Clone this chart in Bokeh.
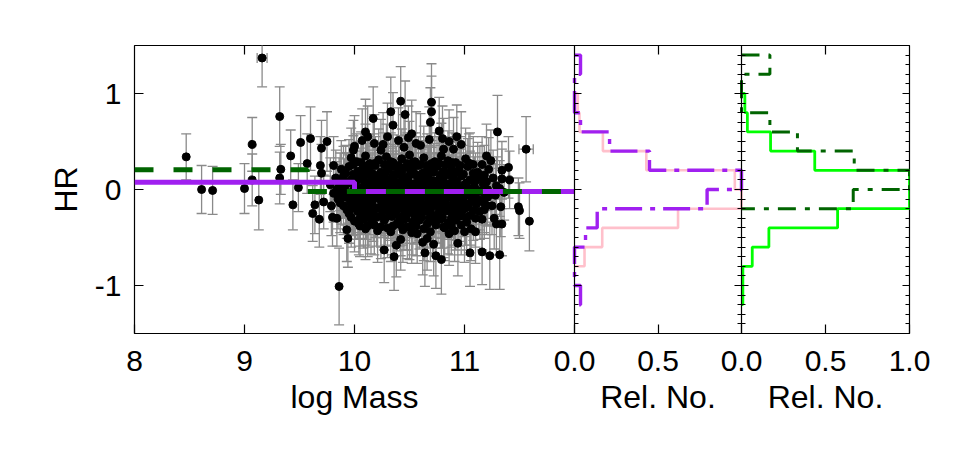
import numpy as np
from bokeh.plotting import figure
from bokeh.layouts import column
from bokeh.models import (Range1d, LinearAxis, FixedTicker, SingleIntervalTicker,
                          CustomJSTickFormatter)
from bokeh.core.properties import value
from bokeh.embed import file_html
from bokeh.resources import INLINE

FONT = "Liberation Sans"

# ---------------- data: individual galaxies (log Mass, HR, HR error) ----------------
sparse_mass = [8.47, 8.61, 8.71, 9.00, 9.07, 9.07, 9.13, 9.16, 9.32, 9.33,
               9.32, 9.42, 9.44, 9.49, 9.51, 9.57, 9.60, 9.62, 9.64, 9.69,
               9.70, 9.75, 9.68, 9.86, 9.93, 9.94, 9.80, 9.70, 9.81, 9.72,
               9.79, 9.84, 9.98, 10.04, 10.17, 10.33, 10.35, 10.42, 10.46, 10.49,
               10.70, 10.70, 10.69, 10.77, 10.12, 10.07, 9.99, 10.18, 10.24, 10.40,
               10.56, 10.80, 10.81, 10.90, 10.97, 11.30, 11.56, 11.20, 11.24, 11.04,
               11.40, 11.34, 11.34, 11.41, 11.49, 11.50, 11.59, 11.34, 11.29, 10.94,
               11.05, 11.16, 11.23, 11.32, 10.79, 10.74, 10.64, 10.72, 10.27, 10.36,
               10.38, 10.42, 10.62, 10.66, 10.33, 10.12, 10.48, 10.57, 10.86, 11.00,
               11.10, 11.27, 11.33, 11.20]
sparse_hr = [0.34, 0.00, -0.01, 0.01, 0.47, 0.10, -0.11, 1.37, 0.76, 0.21,
             0.12, 0.35, -0.16, 0.02, 0.49, 0.27, 0.53, -0.25, -0.16, 0.25,
             0.43, 0.50, -0.31, -1.01, -0.42, -0.51, -0.29, 0.17, 0.25, -0.13,
             -0.17, -0.30, -0.18, -0.36, 0.74, 0.81, 0.67, 0.92, 0.78, 0.54,
             0.91, 0.81, 0.70, 0.61, 0.55, 0.51, 0.41, 0.48, 0.41, 0.51,
             0.48, 0.53, 0.42, 0.42, 0.47, 0.60, 0.42, 0.35, 0.30, 0.27,
             0.23, 0.20, 0.11, 0.10, -0.18, -0.22, -0.33, -0.36, -0.36, -0.56,
             -0.66, -0.65, -0.69, -0.68, -0.73, -0.69, -0.66, -0.57, -0.63, -0.70,
             -0.58, -0.52, -0.55, -0.51, -0.44, -0.38, -0.39, -0.46, -0.46, -0.44,
             -0.44, -0.30, -0.18, -0.17]
sparse_err = [0.24, 0.25, 0.25, 0.26, 0.28, 0.27, 0.31, 0.30, 0.31, 0.26,
              0.27, 0.27, 0.26, 0.25, 0.28, 0.31, 0.33, 0.29, 0.30, 0.30,
              0.29, 0.31, 0.29, 0.40, 0.33, 0.30, 0.30, 0.30, 0.30, 0.28,
              0.31, 0.29, 0.30, 0.32, 0.33, 0.36, 0.34, 0.36, 0.35, 0.33,
              0.40, 0.37, 0.36, 0.35, 0.32, 0.33, 0.31, 0.30, 0.32, 0.34,
              0.33, 0.34, 0.32, 0.33, 0.34, 0.38, 0.34, 0.33, 0.32, 0.31,
              0.32, 0.30, 0.31, 0.30, 0.30, 0.29, 0.31, 0.33, 0.32, 0.34,
              0.35, 0.34, 0.35, 0.36, 0.36, 0.34, 0.35, 0.33, 0.34, 0.35,
              0.33, 0.32, 0.34, 0.33, 0.31, 0.32, 0.33, 0.31, 0.33, 0.32,
              0.33, 0.32, 0.31, 0.30]

core_mass = [
    9.97, 10.02, 10.10, 10.14, 10.22, 10.29, 10.35, 10.43, 10.50, 10.55, 10.63, 10.70, 10.79, 10.85, 10.92, 11.01, 11.08,
    9.88, 9.95, 10.03, 10.08, 10.13, 10.19, 10.24, 10.31, 10.37, 10.41, 10.46, 10.53, 10.58, 10.64, 10.69, 10.75, 10.81, 10.88, 10.95, 11.03, 11.12, 11.22,
    9.83, 9.90, 9.97, 10.05, 10.11, 10.16, 10.21, 10.27, 10.33, 10.38, 10.44, 10.49, 10.56, 10.61, 10.67, 10.72, 10.78, 10.84, 10.90, 10.97, 11.05, 11.14, 11.26,
    9.78, 9.86, 9.93, 10.00, 10.07, 10.12, 10.18, 10.25, 10.30, 10.36, 10.42, 10.47, 10.52, 10.59, 10.65, 10.71, 10.76, 10.82, 10.87, 10.94, 11.00, 11.09, 11.17, 11.29,
    9.81, 9.89, 9.96, 10.04, 10.09, 10.15, 10.20, 10.26, 10.32, 10.39, 10.45, 10.50, 10.54, 10.60, 10.66, 10.73, 10.79, 10.86, 10.91, 10.98, 11.06, 11.15, 11.24, 11.36,
    9.85, 9.92, 10.01, 10.06, 10.13, 10.19, 10.23, 10.29, 10.34, 10.40, 10.46, 10.51, 10.57, 10.62, 10.68, 10.74, 10.80, 10.85, 10.93, 10.99, 11.07, 11.13, 11.21,
    9.90, 9.99, 10.07, 10.14, 10.21, 10.28, 10.35, 10.42, 10.48, 10.55, 10.61, 10.67, 10.73, 10.80, 10.87, 10.95, 11.03, 11.11, 11.25,
    9.95, 10.03, 10.10, 10.17, 10.24, 10.31, 10.37, 10.44, 10.50, 10.57, 10.63, 10.70, 10.76, 10.83, 10.90, 10.97, 11.05, 11.14,
    10.00, 10.08, 10.15, 10.27, 10.39, 10.45, 10.53, 10.59, 10.66, 10.71, 10.78, 10.85, 10.92, 11.02, 11.16,
    10.10, 10.21, 10.30, 10.44, 10.52, 10.63, 10.69, 10.82, 10.91, 11.06,
    10.00, 10.26, 10.45, 10.52, 10.60, 10.68, 10.86, 10.10, 10.30, 10.93]
core_hr = [
    0.33, 0.29, 0.35, 0.27, 0.31, 0.34, 0.28, 0.32, 0.36, 0.29, 0.33, 0.27, 0.35, 0.30, 0.28, 0.32, 0.26,
    0.21, 0.24, 0.19, 0.23, 0.20, 0.25, 0.18, 0.22, 0.24, 0.19, 0.23, 0.21, 0.25, 0.18, 0.22, 0.24, 0.19, 0.23, 0.20, 0.24, 0.18, 0.21,
    0.12, 0.14, 0.10, 0.13, 0.15, 0.09, 0.12, 0.14, 0.11, 0.15, 0.10, 0.13, 0.15, 0.11, 0.14, 0.09, 0.13, 0.15, 0.11, 0.14, 0.10, 0.13, 0.12,
    0.05, 0.03, 0.06, 0.04, 0.02, 0.06, 0.03, 0.05, 0.02, 0.06, 0.04, 0.01, 0.05, 0.03, 0.06, 0.02, 0.05, 0.03, 0.06, 0.02, 0.05, 0.03, 0.06, 0.04,
    -0.04, -0.02, -0.05, -0.03, -0.01, -0.04, -0.02, -0.05, -0.03, -0.01, -0.04, -0.02, -0.05, -0.03, -0.01, -0.04, -0.02, -0.05, -0.03, -0.01, -0.04, -0.02, -0.05, -0.03,
    -0.10, -0.08, -0.11, -0.09, -0.12, -0.08, -0.10, -0.13, -0.09, -0.11, -0.08, -0.12, -0.10, -0.07, -0.11, -0.09, -0.13, -0.08, -0.10, -0.12, -0.09, -0.11, -0.08,
    -0.17, -0.15, -0.18, -0.16, -0.19, -0.15, -0.17, -0.20, -0.16, -0.18, -0.15, -0.19, -0.17, -0.15, -0.19, -0.16, -0.18, -0.15, -0.17,
    -0.25, -0.23, -0.26, -0.24, -0.27, -0.23, -0.25, -0.28, -0.24, -0.26, -0.23, -0.27, -0.25, -0.22, -0.26, -0.24, -0.27, -0.23,
    -0.33, -0.31, -0.34, -0.32, -0.35, -0.31, -0.34, -0.32, -0.36, -0.33, -0.31, -0.35, -0.32, -0.34, -0.31,
    -0.41, -0.43, -0.40, -0.42, -0.45, -0.41, -0.44, -0.40, -0.43, -0.41,
    0.45, 0.47, 0.44, 0.58, 0.46, 0.52, 0.50, 0.60, 0.55, 0.55]
core_err = [
    0.31, 0.29, 0.33, 0.30, 0.32, 0.34, 0.29, 0.31, 0.35, 0.30, 0.33, 0.28, 0.34, 0.31, 0.30, 0.32, 0.29,
    0.30, 0.28, 0.31, 0.29, 0.33, 0.30, 0.27, 0.32, 0.29, 0.31, 0.34, 0.28, 0.30, 0.33, 0.29, 0.31, 0.27, 0.32, 0.30, 0.29, 0.31, 0.33,
    0.29, 0.31, 0.28, 0.30, 0.33, 0.27, 0.31, 0.29, 0.32, 0.30, 0.28, 0.34, 0.29, 0.31, 0.30, 0.27, 0.33, 0.29, 0.31, 0.28, 0.30, 0.32, 0.29,
    0.28, 0.30, 0.32, 0.29, 0.31, 0.27, 0.30, 0.33, 0.28, 0.31, 0.29, 0.32, 0.30, 0.28, 0.31, 0.29, 0.33, 0.27, 0.30, 0.32, 0.29, 0.31, 0.28, 0.30,
    0.30, 0.28, 0.31, 0.29, 0.33, 0.30, 0.27, 0.31, 0.29, 0.32, 0.28, 0.30, 0.31, 0.29, 0.33, 0.28, 0.30, 0.32, 0.29, 0.31, 0.27, 0.30, 0.32, 0.29,
    0.31, 0.29, 0.30, 0.32, 0.28, 0.31, 0.29, 0.33, 0.30, 0.28, 0.31, 0.29, 0.32, 0.30, 0.28, 0.31, 0.33, 0.29, 0.30, 0.32, 0.28, 0.31, 0.30,
    0.30, 0.32, 0.29, 0.31, 0.28, 0.33, 0.30, 0.29, 0.31, 0.32, 0.28, 0.30, 0.33, 0.29, 0.31, 0.30, 0.28, 0.32, 0.30,
    0.31, 0.29, 0.32, 0.30, 0.33, 0.28, 0.31, 0.30, 0.32, 0.29, 0.31, 0.34, 0.30, 0.28, 0.32, 0.30, 0.31, 0.29,
    0.32, 0.30, 0.33, 0.31, 0.29, 0.32, 0.34, 0.30, 0.31, 0.33, 0.30, 0.32, 0.31, 0.29, 0.32,
    0.32, 0.33, 0.31, 0.34, 0.32, 0.33, 0.31, 0.34, 0.32, 0.33,
    0.32, 0.33, 0.34, 0.35, 0.33, 0.34, 0.33, 0.34, 0.35, 0.33]

dense_mass = [
    9.99, 10.06, 10.12, 10.18, 10.27, 10.33, 10.40, 10.48, 10.53, 10.60, 10.66, 10.73, 10.77, 10.83, 10.89, 10.96, 11.05, 11.16,
    9.92, 9.99, 10.06, 10.16, 10.22, 10.28, 10.35, 10.43, 10.51, 10.55, 10.62, 10.67, 10.72, 10.79, 10.86, 10.92, 10.99, 11.08, 11.18,
    9.87, 9.94, 10.02, 10.09, 10.14, 10.23, 10.29, 10.35, 10.41, 10.47, 10.54, 10.58, 10.64, 10.70, 10.75, 10.81, 10.88, 10.93, 11.02, 11.10, 11.20,
    9.84, 9.91, 9.99, 10.05, 10.11, 10.17, 10.23, 10.28, 10.34, 10.40, 10.44, 10.49, 10.56, 10.62, 10.68, 10.74, 10.80, 10.84, 10.89, 10.96, 11.03, 11.12, 11.21, 11.32,
    9.88, 9.95, 10.02, 10.08, 10.12, 10.18, 10.25, 10.31, 10.37, 10.42, 10.48, 10.53, 10.59, 10.64, 10.70, 10.77, 10.83, 10.89, 10.95, 11.02, 11.10, 11.19, 11.28,
    9.87, 9.96, 10.04, 10.10, 10.16, 10.25, 10.31, 10.38, 10.44, 10.49, 10.54, 10.59, 10.65, 10.71, 10.77, 10.83, 10.90, 10.97, 11.04, 11.10, 11.18,
    9.93, 10.01, 10.05, 10.11, 10.19, 10.26, 10.33, 10.39, 10.46, 10.52, 10.59, 10.65, 10.69, 10.78, 10.85, 10.92, 11.00, 11.08, 11.18,
    9.97, 10.05, 10.13, 10.20, 10.28, 10.34, 10.41, 10.47, 10.55, 10.61, 10.68, 10.74, 10.80, 10.88, 10.95, 11.01, 11.10,
    10.05, 10.18, 10.24, 10.35, 10.42, 10.50, 10.56, 10.74, 10.81, 10.88, 10.97]
dense_hr = [
    0.26, 0.28, 0.25, 0.27, 0.26, 0.29, 0.25, 0.27, 0.28, 0.26, 0.25, 0.29, 0.27, 0.26, 0.28, 0.25, 0.27, 0.26,
    0.17, 0.16, 0.18, 0.17, 0.15, 0.18, 0.16, 0.17, 0.18, 0.16, 0.17, 0.15, 0.18, 0.16, 0.17, 0.18, 0.16, 0.17, 0.15,
    0.08, 0.07, 0.09, 0.08, 0.06, 0.08, 0.07, 0.09, 0.07, 0.08, 0.06, 0.09, 0.08, 0.07, 0.09, 0.08, 0.07, 0.08, 0.07, 0.09, 0.08,
    0.00, 0.01, -0.01, 0.00, 0.01, -0.01, 0.00, 0.01, 0.00, -0.01, 0.01, 0.00, -0.01, 0.01, 0.00, -0.01, 0.01, 0.00, -0.01, 0.00, 0.01, -0.01, 0.00, 0.01,
    -0.06, -0.07, -0.05, -0.06, -0.07, -0.06, -0.05, -0.07, -0.06, -0.05, -0.06, -0.07, -0.06, -0.05, -0.07, -0.06, -0.05, -0.06, -0.07, -0.06, -0.05, -0.07, -0.06,
    -0.14, -0.13, -0.15, -0.14, -0.13, -0.14, -0.15, -0.13, -0.14, -0.15, -0.13, -0.14, -0.15, -0.13, -0.14, -0.15, -0.13, -0.14, -0.15, -0.13, -0.14,
    -0.21, -0.20, -0.22, -0.21, -0.20, -0.22, -0.21, -0.20, -0.22, -0.21, -0.20, -0.22, -0.21, -0.20, -0.22, -0.21, -0.20, -0.22, -0.21,
    -0.29, -0.30, -0.28, -0.29, -0.30, -0.28, -0.29, -0.30, -0.28, -0.29, -0.30, -0.28, -0.29, -0.30, -0.28, -0.29, -0.30,
    -0.38, -0.37, -0.39, -0.38, -0.37, -0.39, -0.38, -0.37, -0.39, -0.38, -0.37]
dense_err = [
    0.30, 0.32, 0.29, 0.31, 0.33, 0.30, 0.28, 0.32, 0.31, 0.29, 0.33, 0.30, 0.32, 0.28, 0.31, 0.30, 0.32, 0.29,
    0.29, 0.31, 0.30, 0.28, 0.32, 0.30, 0.31, 0.29, 0.33, 0.30, 0.28, 0.31, 0.30, 0.32, 0.29, 0.31, 0.30, 0.28, 0.31,
    0.30, 0.29, 0.31, 0.28, 0.32, 0.30, 0.29, 0.31, 0.30, 0.28, 0.32, 0.29, 0.30, 0.31, 0.29, 0.33, 0.28, 0.30, 0.31, 0.29, 0.30,
    0.29, 0.31, 0.30, 0.28, 0.32, 0.30, 0.29, 0.31, 0.33, 0.30, 0.28, 0.31, 0.29, 0.32, 0.30, 0.28, 0.31, 0.29, 0.30, 0.32, 0.28, 0.31, 0.30, 0.29,
    0.30, 0.28, 0.31, 0.29, 0.32, 0.30, 0.28, 0.31, 0.30, 0.33, 0.29, 0.31, 0.30, 0.28, 0.32, 0.30, 0.29, 0.31, 0.30, 0.28, 0.31, 0.30, 0.32,
    0.31, 0.29, 0.30, 0.32, 0.28, 0.31, 0.30, 0.29, 0.33, 0.30, 0.28, 0.31, 0.29, 0.32, 0.30, 0.31, 0.28, 0.30, 0.32, 0.29, 0.31,
    0.30, 0.32, 0.29, 0.31, 0.30, 0.28, 0.32, 0.30, 0.31, 0.29, 0.33, 0.30, 0.28, 0.31, 0.30, 0.32, 0.29, 0.31, 0.30,
    0.31, 0.29, 0.32, 0.30, 0.28, 0.31, 0.30, 0.33, 0.29, 0.31, 0.30, 0.28, 0.32, 0.30, 0.31, 0.29, 0.30,
    0.32, 0.31, 0.33, 0.30, 0.32, 0.34, 0.31, 0.33, 0.32, 0.30, 0.31]

# two objects with a visible mass error
xerr_mass = [9.16, 11.56]
xerr_hr = [1.37, 0.42]
xerr_size = [0.045, 0.065]

# median HR in mass bins (main panel)
purple_mass_edges = [8.0, 10.0, 12.0]
purple_hr_median = [0.075, -0.02]
green_mass_edges = [8.0, 9.57, 12.0]
green_hr_median = [0.205, -0.02]

# relative-number histograms of HR (bins of 0.2)
purple_edges = [-1.2, -1.0, -0.8, -0.6, -0.4, -0.2, 0.0, 0.2, 0.4, 0.6, 0.8, 1.0, 1.2, 1.4]
purple_rel = [0.036, 0.0, 0.0, 0.066, 0.136, 0.794, 1.0, 0.449, 0.21, 0.036, 0.0, 0.0, 0.036]
pink_edges = [-0.8, -0.6, -0.4, -0.2, 0.0, 0.2, 0.4, 0.6, 0.8, 1.0]
pink_rel = [0.06, 0.166, 0.62, 1.0, 0.96, 0.43, 0.17, 0.03, 0.02]
dkgreen_edges = [-0.2, 0.0, 0.2, 0.4, 0.6, 0.8, 1.0, 1.2, 1.4]
dkgreen_rel = [0.665, 1.0, 0.671, 0.333, 0.169, 0.0, 0.0, 0.169]
lime_edges = [-1.2, -1.0, -0.8, -0.6, -0.4, -0.2, 0.0, 0.2, 0.4, 0.6, 0.8, 1.0]
lime_rel = [0.008, 0.008, 0.064, 0.163, 0.572, 1.0, 1.0, 0.436, 0.173, 0.035, 0.02]

main_xticks = [8, 9, 10, 11]
hr_ticks = [-1, 0, 1]
rel_ticks_1 = [0.0, 0.5]
rel_ticks_2 = [0.0, 0.5, 1.0]
axis_titles = ["log Mass", "Rel. No.", "Rel. No."]

# ---------------- layout ----------------
MAIN_W, H1_W, H2_W, FRAME_H = 440, 167, 168, 288
LEFT, RIGHT, TOP, BOTTOM, STRIP_H = 134, 30, 45, 45, 50
FRAME_W = MAIN_W + H1_W + H2_W
PX_PER_DEX = MAIN_W / 4.0
H_OFFSET = {"h1": MAIN_W, "h2": MAIN_W + H1_W}
H_WIDTH = {"h1": H1_W, "h2": H2_W}

PURPLE, PINK, DKGREEN, LIME, GREY = "#A020F0", "#FFC0CB", "#006400", "#00FF00", "#8a8a8a"
TICK_FS, LABEL_FS = "30px", "32px"

x_main = Range1d(8, 8 + FRAME_W / PX_PER_DEX)
extra = {name: Range1d(-H_OFFSET[name] / H_WIDTH[name],
                       (FRAME_W - H_OFFSET[name]) / H_WIDTH[name]) for name in ("h1", "h2")}


def to_main(name, v):
    """position of a Rel. No. value of a histogram panel on the log Mass scale"""
    return 8 + (H_OFFSET[name] + v * H_WIDTH[name]) / PX_PER_DEX


p = figure(width=LEFT + FRAME_W + RIGHT, height=TOP + FRAME_H + BOTTOM,
           x_range=x_main, y_range=Range1d(-1.5, 1.5),
           x_axis_location=None, y_axis_location=None,
           min_border_left=LEFT, min_border_right=RIGHT,
           min_border_top=TOP, min_border_bottom=BOTTOM,
           output_backend="svg", toolbar_location=None)
p.extra_x_ranges = extra
p.grid.visible = False
p.outline_line_color = "black"
p.outline_line_width = 1.2

NO_LABELS = CustomJSTickFormatter(code="return ''")


def style(ax, tick_in, minor_in=0, labels=True):
    ax.axis_line_color = None
    ax.major_tick_in = tick_in
    ax.major_tick_out = 0
    ax.minor_tick_in = minor_in
    ax.minor_tick_out = 0
    ax.major_tick_line_color = "black"
    ax.minor_tick_line_color = "black"
    ax.major_tick_line_width = 1.2
    ax.minor_tick_line_width = 1.2
    ax.major_label_text_font = FONT
    ax.major_label_text_font_size = TICK_FS
    ax.major_label_text_color = "black"
    ax.major_label_standoff = 17
    if not labels:
        ax.formatter = NO_LABELS
        ax.major_label_standoff = 0
    return ax


# bottom axis: log Mass ticks + Rel. No. ticks of both histogram panels
bottom_pos = [float(t) for t in main_xticks]
bottom_txt = [str(t) for t in main_xticks]
for name, ticks in (("h1", rel_ticks_1), ("h2", rel_ticks_2)):
    bottom_pos += [to_main(name, t) for t in ticks]
    bottom_txt += ["%.1f" % t for t in ticks]
fmt = CustomJSTickFormatter(args=dict(pos=bottom_pos, txt=bottom_txt), code="""
    for (let i = 0; i < pos.length; i++) { if (Math.abs(pos[i] - tick) < 1e-6) return txt[i] }
    return ""
""")
ax = style(LinearAxis(ticker=FixedTicker(ticks=bottom_pos), formatter=fmt), 9)
p.add_layout(ax, "below")
top_pos = [float(t) for t in main_xticks[1:]] + [to_main("h1", 0.5), to_main("h2", 0.5)]
ax = style(LinearAxis(ticker=FixedTicker(ticks=top_pos)), 9, labels=False)
p.add_layout(ax, "above")

ax = style(LinearAxis(ticker=FixedTicker(ticks=hr_ticks),
                      formatter=CustomJSTickFormatter(code="return tick.toFixed(0)")), 9)
ax.major_label_standoff = 13
ax.axis_label = "HR"
ax.axis_label_text_font = FONT
ax.axis_label_text_font_size = LABEL_FS
ax.axis_label_text_font_style = "normal"
ax.axis_label_text_color = "black"
ax.axis_label_standoff = 8
p.add_layout(ax, "left")

# vertical HR tick axes of the histogram panels
for name in ("h1", "h2"):
    ax = style(LinearAxis(x_range_name=name, fixed_location=0.0,
                          ticker=SingleIntervalTicker(interval=1, num_minor_ticks=10)),
               7, 4, labels=False)
    ax.axis_line_color = "black"
    ax.axis_line_width = 1.2
    p.add_layout(ax, "left")
ax = style(LinearAxis(x_range_name="h1", fixed_location=1.0,
                      ticker=SingleIntervalTicker(interval=1, num_minor_ticks=10)),
           7, 4, labels=False)
p.add_layout(ax, "right")
ax = style(LinearAxis(ticker=SingleIntervalTicker(interval=1, num_minor_ticks=10)),
           7, 4, labels=False)
p.add_layout(ax, "right")

# ---------------- main panel ----------------
mass = np.array(sparse_mass + core_mass + dense_mass)
hr = np.array(sparse_hr + core_hr + dense_hr)
err = np.array(sparse_err + core_err + dense_err)
assert len(mass) == len(hr) == len(err)

p.segment(x0=mass, y0=hr - err, x1=mass, y1=hr + err, line_color=GREY, line_width=1.3)
p.scatter(np.concatenate([mass, mass]), np.concatenate([hr - err, hr + err]),
          marker="dash", size=10, line_color=GREY, line_width=1.3)
xm, xh, xe = np.array(xerr_mass), np.array(xerr_hr), np.array(xerr_size)
p.segment(x0=xm - xe, y0=xh, x1=xm + xe, y1=xh, line_color=GREY, line_width=1.3)
p.scatter(np.concatenate([xm - xe, xm + xe]), np.concatenate([xh, xh]),
          marker="dash", angle=np.pi / 2, size=10, line_color=GREY, line_width=1.3)
p.scatter(mass, hr, size=8, fill_color="black", line_color="black")

p.step(purple_mass_edges, purple_hr_median + purple_hr_median[-1:], mode="after",
       line_color=PURPLE, line_width=5)
p.step(green_mass_edges, green_hr_median + green_hr_median[-1:], mode="after",
       line_color=DKGREEN, line_width=5, line_dash="19 20")


# ---------------- histograms ----------------
def vertical_step(edges, rel):
    xs, ys = [0.0], [edges[-1]]
    for i in range(len(rel) - 1, -1, -1):
        xs += [rel[i], rel[i]]
        ys += [edges[i + 1], edges[i]]
    xs.append(0.0)
    ys.append(edges[0])
    return xs, ys


xs, ys = vertical_step(pink_edges, pink_rel)
p.line(xs, ys, x_range_name="h1", line_color=PINK, line_width=2.6)
xs, ys = vertical_step(purple_edges, purple_rel)
p.line(xs, ys, x_range_name="h1", line_color=PURPLE, line_width=3.4, line_dash="27 8 5 8")
xs, ys = vertical_step(lime_edges, lime_rel)
p.line(xs, ys, x_range_name="h2", line_color=LIME, line_width=2.8)
xs, ys = vertical_step(dkgreen_edges, dkgreen_rel)
p.line(xs, ys, x_range_name="h2", line_color=DKGREEN, line_width=3.0, line_dash="18 9 5 9")

# ---------------- strip with the x-axis titles ----------------
s = figure(width=LEFT + FRAME_W + RIGHT, height=STRIP_H, x_range=x_main,
           y_range=Range1d(0, STRIP_H), x_axis_location=None, y_axis_location=None,
           min_border_left=LEFT, min_border_right=RIGHT, min_border_top=0, min_border_bottom=0,
           output_backend="svg", toolbar_location=None)
s.extra_x_ranges = extra
s.grid.visible = False
s.outline_line_color = None
title_x = [10.0, 0.5, 0.5]
title_range = ["default", "h1", "h2"]
for txt, tx, rn in zip(axis_titles, title_x, title_range):
    s.text(x=[tx], y=[STRIP_H - 18], text=[txt], x_range_name=rn,
           text_align="center", text_baseline="alphabetic",
           text_font=value(FONT), text_font_size=LABEL_FS, text_color="black")

layout = column(p, s, spacing=0)
open("out.html", "w").write(file_html(layout, INLINE))
